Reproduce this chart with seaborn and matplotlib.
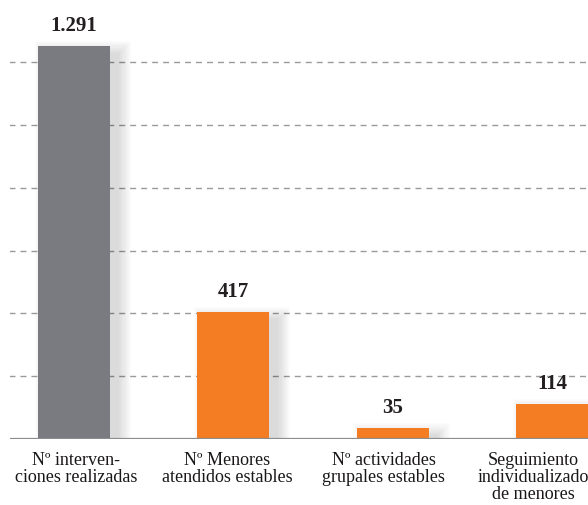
import matplotlib
matplotlib.use("Agg")
import matplotlib.pyplot as plt
import seaborn as sns
import pandas as pd
from matplotlib.patches import Rectangle

categories = ["Nº interven-\nciones realizadas",
              "Nº Menores\natendidos estables",
              "Nº actividades\ngrupales estables",
              "Seguimiento\nindividualizado\nde menores"]
values = [1291, 417, 35, 114]
value_labels = ["1.291", "417", "35", "114"]
colors = ["#7a7b80", "#f47c22", "#f47c22", "#f47c22"]

sns.set_theme(style="white")
plt.rcParams["font.family"] = ["Liberation Serif", "DejaVu Serif"]

W, H = 588, 506
fig = plt.figure(figsize=(W / 100, H / 100), dpi=100)
fig.patch.set_facecolor("white")

base_px = 440
ax = fig.add_axes([10 / W, (H - base_px) / H, 1 - 10 / W, base_px / H])

df = pd.DataFrame({"cat": categories, "val": values})
bar_w = 0.452
sns.barplot(data=df, x="cat", y="val", hue="cat", palette=colors,
            width=bar_w, legend=False, ax=ax, zorder=3, saturation=1,
            linewidth=0, edgecolor="none")

px_per_unit_x = 159.3
ymax = values[0] * base_px / 393
px_y = values[0] / 393  # data units per pixel in y
px_x = 1 / px_per_unit_x
ax.set_xlim(-64 / px_per_unit_x, (588 - 74) / px_per_unit_x)
ax.set_ylim(0, ymax)

# soft shadows
for i, v in enumerate(values):
    left = i - bar_w / 2
    for k in range(12):
        e = 1.1 * k
        ax.add_patch(Rectangle((left + (9 - e) * px_x, (-7 - e) * px_y),
                               bar_w + 2 * e * px_x, v + 2 * e * px_y,
                               facecolor="#000000", alpha=0.012,
                               edgecolor="none", zorder=1))

# dashed grid lines
step = 62.8 * px_y
for k in range(1, 7):
    ax.axhline(k * step, color="#9a9a9e", lw=1.0, dashes=(4.3, 3.6),
               zorder=0, xmin=-0.002)

# baseline
ax.axhline(0, color="#8c8c91", lw=1.6, zorder=4)

for s in ax.spines.values():
    s.set_visible(False)
ax.set_xticks([])
ax.set_yticks([])
ax.set_xlabel("")
ax.set_ylabel("")

# value labels
for i, (v, lab) in enumerate(zip(values, value_labels)):
    ax.annotate(lab, (i, v), xytext=(0, 8), textcoords="offset points",
                ha="center", va="bottom", fontsize=15, fontweight="bold",
                color="#231f20", zorder=5)

# category labels
label_dx = [2, -6, -9, -19]
for i, cat in enumerate(categories):
    ax.annotate(cat, (i, 0), xytext=(label_dx[i] * 0.72, -9),
                textcoords="offset points", ha="center", va="top",
                fontsize=13, color="#1a1718", linespacing=1.0,
                annotation_clip=False)

fig.savefig("out.png", dpi=100)
